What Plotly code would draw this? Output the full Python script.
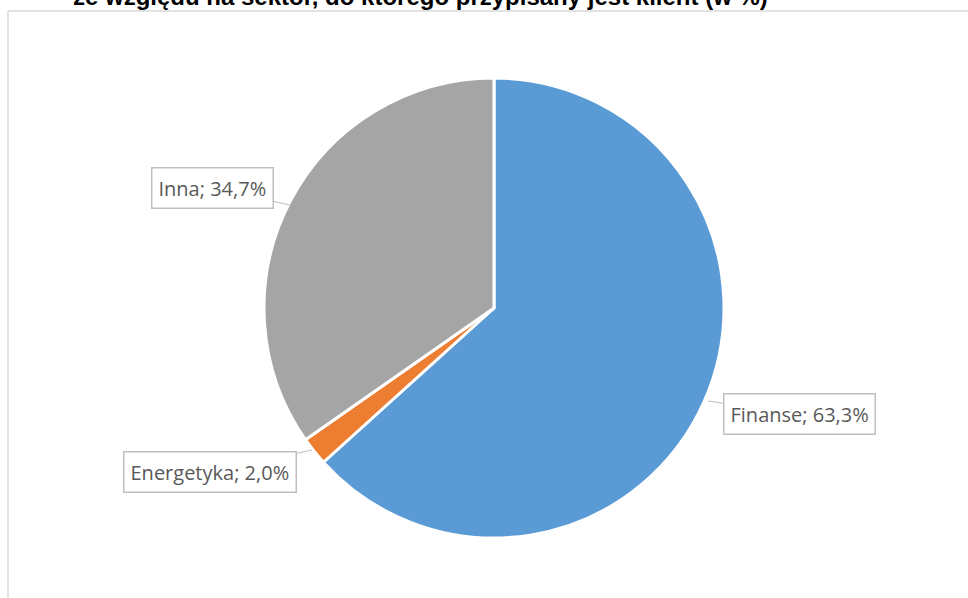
import plotly.graph_objects as go

categories = ["Finanse", "Energetyka", "Inna"]
values = [63.3, 2.0, 34.7]
colors = ["#5B9BD5", "#ED7D31", "#A5A5A5"]
title_text = "ze względu na sektor, do którego przypisany jest klient (w %)"

W, H = 968, 598

def px(x):
    return x / W

def py(y):
    return 1 - y / H

cx, cy, r = 494, 308, 230

fig = go.Figure(go.Pie(
    labels=categories,
    values=values,
    sort=False,
    direction="clockwise",
    rotation=0,
    marker=dict(colors=colors, line=dict(color="white", width=3)),
    textinfo="none",
    hoverinfo="label+percent",
    domain=dict(x=[px(cx - r), px(cx + r)], y=[py(cy + r), py(cy - r)]),
    showlegend=False,
))

def fmt(v):
    return f"{v:.1f}".replace(".", ",") + "%"

# label box centers (pixel) and arrow tips (pixel)
label_pos = {
    "Finanse": ((799, 414), (708, 401)),
    "Energetyka": ((210, 472), (312, 450)),
    "Inna": ((212, 188), (290, 205)),
}

annotations = []
for cat, v in zip(categories, values):
    (tx, ty), (ax_, ay_) = label_pos[cat]
    annotations.append(dict(
        x=px(ax_), y=py(ay_), xref="paper", yref="paper",
        ax=tx - ax_, ay=ty - ay_, axref="pixel", ayref="pixel",
        text=f"{cat}; {fmt(v)}",
        showarrow=True, arrowhead=0, arrowwidth=1, arrowcolor="#BFBFBF", standoff=0,
        font=dict(family="Open Sans, Noto Sans, sans-serif", size=20, color="#595959"),
        bgcolor="white", bordercolor="#BFBFBF", borderwidth=1.5, borderpad=6,
    ))

annotations.append(dict(
    x=px(420), y=py(12), xref="paper", yref="paper",
    xanchor="center", yanchor="bottom", showarrow=False,
    text=f"<b>{title_text}</b>",
    font=dict(family="Liberation Sans, Arial, sans-serif", size=24, color="#000000"),
))

shapes = [
    dict(type="line", xref="paper", yref="paper", x0=px(8), x1=px(8), y0=py(11), y1=0,
         line=dict(color="#D9D9D9", width=1.5)),
    dict(type="line", xref="paper", yref="paper", x0=px(8), x1=1, y0=py(11), y1=py(11),
         line=dict(color="#D9D9D9", width=1.5)),
]

fig.update_layout(
    width=W, height=H,
    margin=dict(l=0, r=0, t=0, b=0),
    paper_bgcolor="white", plot_bgcolor="white",
    annotations=annotations, shapes=shapes,
)

fig.write_html(
    "out.html",
    config={"displayModeBar": False},
    post_script="document.body.style.margin='0';document.body.style.overflow='hidden';",
)
